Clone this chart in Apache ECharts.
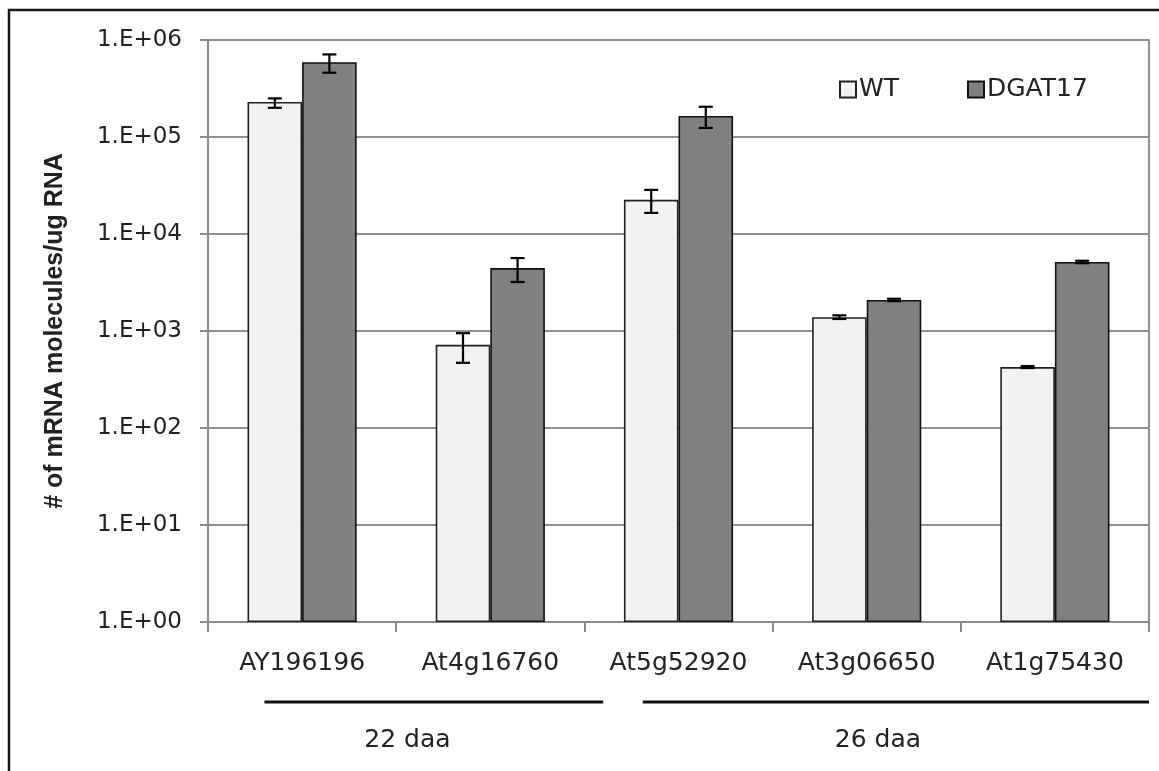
<!DOCTYPE html>
<html>
<head>
<meta charset="utf-8">
<script src="https://cdn.jsdelivr.net/npm/echarts@6/dist/echarts.min.js"></script>
<style>
html,body{margin:0;padding:0;background:#fff;}
#chart{width:1159px;height:771px;}
</style>
</head>
<body>
<div id="chart"></div>
<script>
const categories = ['AY196196', 'At4g16760', 'At5g52920', 'At3g06650', 'At1g75430'];
const seriesNames = ['WT', 'DGAT17'];
const wtValues = [230000, 720, 22500, 1390, 425];
const wtLow = [200000, 470, 16500, 1330, 415];
const wtHigh = [250000, 950, 28500, 1450, 435];
const dgatValues = [590000, 4450, 165000, 2090, 5150];
const dgatLow = [460000, 3200, 124000, 2030, 5000];
const dgatHigh = [710000, 5650, 205000, 2150, 5300];
const yTickLabels = ['1.E+00', '1.E+01', '1.E+02', '1.E+03', '1.E+04', '1.E+05', '1.E+06'];
const groupLabels = ['22 daa', '26 daa'];
const yAxisTitle = '# of mRNA molecules/ug RNA';

const GAP = 0.42;
const FONT = '"DejaVu Sans", sans-serif';

function errData(low, high) {
  return categories.map((c, i) => [i, low[i], high[i]]);
}
function makeErr(sign) {
  return function (params, api) {
    const i = api.value(0);
    const band = api.coord([1, 10])[0] - api.coord([0, 10])[0];
    const bw = band * (1 - GAP) / 2;
    const cx = api.coord([i, 10])[0] + sign * bw / 2;
    const yl = api.coord([i, api.value(1)])[1];
    const yh = api.coord([i, api.value(2)])[1];
    const cap = 7;
    const st = { stroke: '#000', lineWidth: 2.2 };
    return {
      type: 'group',
      children: [
        { type: 'line', shape: { x1: cx, y1: yl, x2: cx, y2: yh }, style: st },
        { type: 'line', shape: { x1: cx - cap, y1: yl, x2: cx + cap, y2: yl }, style: st },
        { type: 'line', shape: { x1: cx - cap, y1: yh, x2: cx + cap, y2: yh }, style: st }
      ]
    };
  };
}

const chart = echarts.init(document.getElementById('chart'));
const option = {
  animation: false,
  backgroundColor: '#fff',
  grid: { left: 208, right: 10, top: 40, bottom: 149 },
  legend: {
    left: 834, top: 72,
    itemWidth: 16, itemHeight: 16, itemGap: 68,
    icon: 'rect',
    textStyle: { fontFamily: FONT, fontSize: 25, color: '#222', padding: [0, 0, 0, -2] },
    data: seriesNames
  },
  xAxis: {
    type: 'category',
    data: categories,
    axisLine: { lineStyle: { color: '#8a8a8a', width: 2 } },
    axisTick: { show: true, length: 10, lineStyle: { color: '#8a8a8a', width: 2 } },
    axisLabel: { fontFamily: FONT, fontSize: 25, color: '#222', margin: 29 },
    splitLine: { show: false }
  },
  yAxis: [{
    type: 'log', logBase: 10, min: 1, max: 1000000,
    name: yAxisTitle,
    nameLocation: 'middle', nameGap: 140, nameRotate: 90,
    nameTextStyle: { fontFamily: '"Liberation Sans", sans-serif', fontWeight: 'bold', fontSize: 25, color: '#222' },
    axisLine: { show: true, lineStyle: { color: '#8a8a8a', width: 2 } },
    axisTick: { show: true, length: 8, lineStyle: { color: '#8a8a8a', width: 2 } },
    axisLabel: {
      fontFamily: FONT, fontSize: 23, color: '#222', margin: 26,
      formatter: v => yTickLabels[Math.round(Math.log10(v))]
    },
    splitLine: { lineStyle: { color: '#8f8f8f', width: 2 } }
  }, {
    type: 'log', logBase: 10, min: 1, max: 1000000, position: 'right',
    axisLine: { show: true, lineStyle: { color: '#8f8f8f', width: 2 } },
    axisTick: { show: false }, axisLabel: { show: false }, splitLine: { show: false }
  }],
  series: [
    {
      name: seriesNames[0], type: 'bar', data: wtValues,
      barGap: '0%', barCategoryGap: (GAP * 100) + '%',
      itemStyle: { color: '#f2f2f2', borderColor: '#222', borderWidth: 1.6 },
      z: 2
    },
    {
      name: seriesNames[1], type: 'bar', data: dgatValues,
      barGap: '0%', barCategoryGap: (GAP * 100) + '%',
      itemStyle: { color: '#808080', borderColor: '#111', borderWidth: 1.6 },
      z: 2
    },
    { type: 'custom', renderItem: makeErr(-1), data: errData(wtLow, wtHigh), z: 5, silent: true },
    { type: 'custom', renderItem: makeErr(1), data: errData(dgatLow, dgatHigh), z: 5, silent: true }
  ]
};
chart.setOption(option);

function px(idx) { return chart.convertToPixel({ xAxisIndex: 0 }, idx); }
const c0 = px(0), c1 = px(1), c3 = px(3), c4 = px(4);
const band = c1 - c0;
const lineY = 702, textY = 740;
const lineStyle = { stroke: '#111', lineWidth: 3 };
chart.setOption({
  graphic: [
    { type: 'rect', shape: { x: 9, y: 10, width: 1170, height: 790 }, style: { fill: 'none', stroke: '#1a1a1a', lineWidth: 2.5 }, silent: true },
    { type: 'line', shape: { x1: c0 - band * 0.2, y1: lineY, x2: c1 + band * 0.6, y2: lineY }, style: lineStyle },
    { type: 'line', shape: { x1: c1 + band * 0.81, y1: lineY, x2: c4 + band * 0.5, y2: lineY }, style: lineStyle },
    { type: 'text', x: (c0 + c1) / 2 + band * 0.06, y: textY, style: { text: groupLabels[0], fontFamily: FONT, fontSize: 25, fill: '#222', align: 'center', verticalAlign: 'middle' } },
    { type: 'text', x: c3 + band * 0.06, y: textY, style: { text: groupLabels[1], fontFamily: FONT, fontSize: 25, fill: '#222', align: 'center', verticalAlign: 'middle' } }
  ]
});
</script>
</body>
</html>
